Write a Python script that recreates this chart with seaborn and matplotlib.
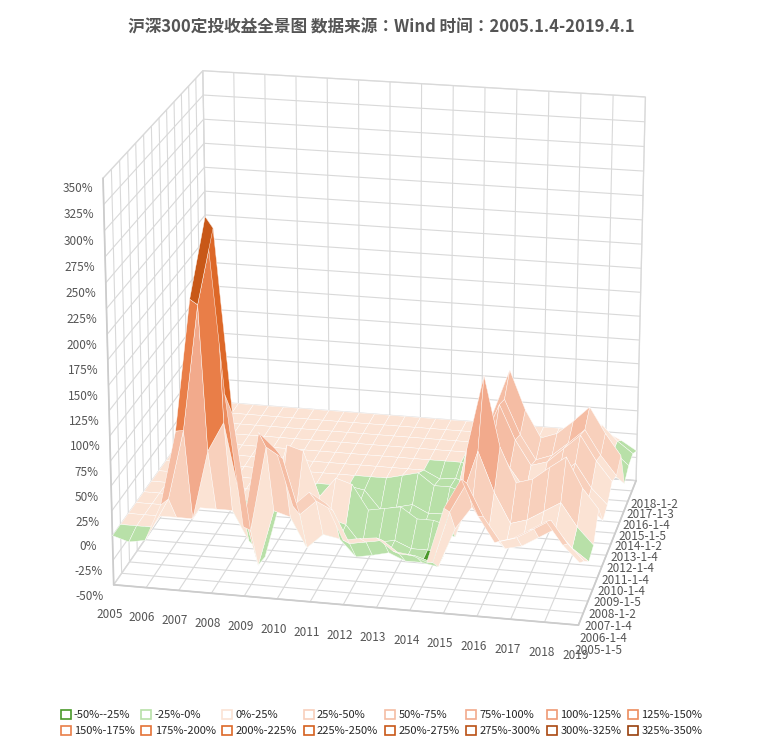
import numpy as np
import matplotlib
matplotlib.use("Agg")
import matplotlib.pyplot as plt
import matplotlib.patches as mpatches
from matplotlib.colors import ListedColormap, BoundaryNorm
import seaborn as sns

sns.set_theme(style="white", font="Noto Sans CJK SC")
plt.rcParams["font.family"] = ["Noto Sans CJK SC", "Noto Sans CJK JP", "DejaVu Sans"]
plt.rcParams["axes.unicode_minus"] = False

# ── Data ────────────────────────────────────────────────────────────────────
END_TIMES = [2005 + 0.5 * i for i in range(29)]
YEAR_TICKS = list(range(2005, 2020))
START_LABELS = ["2005-1-5", "2006-1-4", "2007-1-4", "2008-1-2", "2009-1-5",
                "2010-1-4", "2011-1-4", "2012-1-4", "2013-1-4", "2014-1-2",
                "2015-1-5", "2016-1-4", "2017-1-3", "2018-1-2"]

ROW_2005 = [0, -5, -2, 35, 110, 240, 320, 150, 20, 115, 100, 45, 60, 50, 15, 18, 20, 8, 6, 0, 55, 85, 50, 25, 30, 40, 50, 28, 12]
ROW_2006 = [0, 0, 0, 30, 100, 225, 300, 120, 5, 90, 80, 25, 40, 32, 0, 3, 6, -6, -7, -12, 40, 70, 38, 15, 20, 30, 40, 18, 2]
ROW_2007 = [0] * 4 + [0, 70, 100, 20, -42, 15, 10, -20, -5, -8, -25, -22, -18, -25, -25, -28, 12, 35, 12, -4, 0, 10, 20, 2, -10]
ROW_2008 = [0] * 6 + [0, -30, -45, 15, 12, -15, 0, -5, -25, -20, -17, -24, -24, -27, 30, 80, 40, 10, 15, 25, 35, 12, -5]
ROW_2009 = [0] * 8 + [0, 60, 55, 10, 30, 25, 0, 3, 6, -5, -5, -10, 70, 145, 75, 40, 45, 58, 70, 40, 20]
ROW_2010 = [0] * 10 + [0, -20, -5, -8, -28, -24, -20, -28, -28, -32, 15, 50, 25, 5, 10, 22, 35, 12, -3]
ROW_2011 = [0] * 12 + [0, -3, -22, -18, -14, -22, -21, -26, 20, 60, 32, 10, 16, 28, 42, 18, 2]
ROW_2012 = [0] * 14 + [0, 4, 8, -4, -4, -10, 45, 85, 50, 25, 30, 45, 60, 35, 15]
ROW_2013 = [0] * 16 + [0, -8, -6, -12, 40, 80, 45, 20, 26, 40, 55, 30, 10]
ROW_2014 = [0] * 18 + [0, -5, 55, 100, 60, 32, 38, 52, 68, 42, 20]
ROW_2015 = [0] * 20 + [0, 20, -5, -18, -12, -3, 8, -8, -20]
ROW_2016 = [0] * 22 + [0, -10, -3, 8, 20, 2, -12]
ROW_2017 = [0] * 24 + [0, 8, 18, 2, -10]
ROW_2018 = [0] * 26 + [0, -8, -18]

ROWS = [ROW_2005, ROW_2006, ROW_2007, ROW_2008, ROW_2009, ROW_2010, ROW_2011,
        ROW_2012, ROW_2013, ROW_2014, ROW_2015, ROW_2016, ROW_2017, ROW_2018]

BAND_COLORS = ["#4A9A2A", "#B8E0A8", "#FBE3D4", "#F8D0BC", "#F5BDA4", "#F2AA8C",
               "#EF9A74", "#EC8C5E", "#E97E48", "#E47236", "#DD6828", "#D4601E",
               "#C85818", "#BA5014", "#AA4810", "#98400C"]
BAND_LABELS = [f"{lo}%-{lo + 25}%" for lo in range(-50, 350, 25)]

# ── Plot ────────────────────────────────────────────────────────────────────
Z = np.array(ROWS, dtype=float)
X, Y = np.meshgrid(END_TIMES, np.arange(len(START_LABELS)))
cmap = ListedColormap(BAND_COLORS)
norm = BoundaryNorm(np.arange(-50, 351, 25), cmap.N)
face = cmap(norm((Z[:-1, :-1] + Z[1:, 1:] + Z[:-1, 1:] + Z[1:, :-1]) / 4))

fig = plt.figure(figsize=(7.63, 7.46), dpi=100)
ax = fig.add_axes([-0.12, 0.06, 1.22, 0.95], projection="3d")
ax.plot_surface(X, Y, Z, facecolors=face, rstride=1, cstride=1,
                edgecolor="white", linewidth=0.3, shade=False)

ax.set_zlim(-50, 350)
ax.set_zticks(range(-50, 351, 25))
ax.set_zticklabels([f"{v}%" for v in range(-50, 351, 25)], fontsize=8.5, color="#555")
ax.set_xticks(YEAR_TICKS)
ax.set_xticklabels([str(y) for y in YEAR_TICKS], fontsize=8.5, color="#555")
ax.set_yticks(range(len(START_LABELS)))
ax.set_yticklabels(START_LABELS, fontsize=8.5, color="#555")
ax.set_xlim(2005, 2019)
ax.set_ylim(0, len(START_LABELS) - 1)
ax.view_init(elev=20, azim=-78)
ax.set_box_aspect((1.6, 1.3, 1.45))
ax.zaxis.set_ticks_position("lower")
for axis in (ax.xaxis, ax.yaxis, ax.zaxis):
    axis.pane.set_facecolor((1, 1, 1, 0))
    axis.pane.set_edgecolor("#cccccc")
    axis.line.set_color("#cccccc")
    axis._axinfo["grid"]["color"] = "#d9d9d9"
    axis._axinfo["grid"]["linewidth"] = 0.8
    axis._axinfo["tick"]["outward_factor"] = 0
    axis._axinfo["tick"]["inward_factor"] = 0

fig.suptitle("沪深300定投收益全景图 数据来源：Wind 时间：2005.1.4-2019.4.1",
             fontsize=12, fontweight="bold", color="#555", y=0.975)

handles = [mpatches.Patch(facecolor="white", edgecolor=c, linewidth=1.2, label=l)
           for c, l in zip(BAND_COLORS, BAND_LABELS)]
ncol = 8
ordered = []
for c in range(ncol):
    ordered.append(handles[c])
    ordered.append(handles[c + ncol])
fig.legend(handles=ordered, loc="lower center", ncol=ncol, fontsize=8, frameon=False,
           handlelength=0.9, handleheight=0.9, columnspacing=0.6, handletextpad=0.3,
           bbox_to_anchor=(0.5, 0.0))

fig.savefig("out.png", dpi=100)
